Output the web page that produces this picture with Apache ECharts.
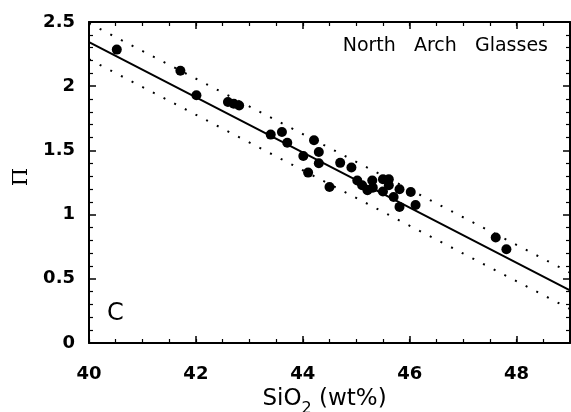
<!DOCTYPE html>
<html>
<head>
<meta charset="utf-8">
<script src="https://cdn.jsdelivr.net/npm/echarts@6/dist/echarts.min.js"></script>
<style>
html,body{margin:0;padding:0;background:#fff;}
#chart{width:571px;height:412px;}
</style>
</head>
<body>
<div id="chart"></div>
<script>
// Data
var sio2 = [40.52, 41.71, 42.01, 42.60, 42.71, 42.81, 43.40, 43.61, 43.71, 44.01, 44.10, 44.21, 44.30, 44.30, 44.50, 44.70, 44.91, 45.02, 45.11, 45.21, 45.30, 45.31, 45.50, 45.50, 45.61, 45.61, 45.70, 45.81, 45.81, 46.02, 46.11, 47.61, 47.81];
var piVals = [2.285, 2.12, 1.93, 1.877, 1.864, 1.849, 1.623, 1.643, 1.56, 1.456, 1.327, 1.579, 1.488, 1.40, 1.215, 1.403, 1.367, 1.265, 1.228, 1.19, 1.265, 1.21, 1.275, 1.18, 1.275, 1.228, 1.137, 1.198, 1.06, 1.176, 1.075, 0.821, 0.73];
var fitX = [40, 49];
var fitY = [2.344, 0.41];
var upperY = [2.49, 0.548];
var lowerY = [2.21, 0.265];
var xTickLabels = ['40', '42', '44', '46', '48'];
var yTickLabels = ['0', '0.5', '1', '1.5', '2', '2.5'];
var titleText = 'North   Arch   Glasses';
var panelText = 'C';
var yName = '\u03A0';
var xName = 'SiO{sub|2} (wt%)';

function pairs(xs, ys) { return xs.map(function (x, i) { return [x, ys[i]]; }); }

var FONT = 'DejaVu Sans';
var black = '#000';
var tickColor = '#000';

function xMain(pos, showLabel, name) {
  return {
    type: 'value', position: pos, min: 40, max: 49, interval: 2,
    axisLine: { show: true, onZero: false, lineStyle: { color: black, width: 2 } },
    axisTick: { show: true, inside: false, length: -7, lineStyle: { color: tickColor, width: 1.5 } },
    axisLabel: {
      show: showLabel, margin: 22, color: black, fontFamily: FONT, fontSize: 18, fontWeight: 'bold',
      showMaxLabel: false,
      formatter: function (v) { return xTickLabels.indexOf(String(v)) >= 0 ? String(v) : ''; }
    },
    splitLine: { show: false },
    name: name || '', nameLocation: 'middle', nameGap: 26,
    nameTextStyle: {
      color: black, fontFamily: FONT, fontSize: 23, padding: [0, 10, 0, 0],
      rich: { sub: { fontFamily: FONT, fontSize: 16, color: black, padding: [18, 0, 0, 0] } }
    }
  };
}
function xMinor(pos) {
  return {
    type: 'value', position: pos, min: 40, max: 49, interval: 0.5,
    axisLine: { show: false, onZero: false },
    axisTick: { show: true, inside: false, length: -4, lineStyle: { color: tickColor, width: 1.2 } },
    axisLabel: { show: false }, splitLine: { show: false }
  };
}
function yAxis(pos, showLabel) {
  return {
    type: 'value', position: pos, min: 0, max: 2.5, interval: 0.5,
    axisLine: { show: true, onZero: false, lineStyle: { color: black, width: 2 } },
    axisTick: { show: true, inside: false, length: -7, lineStyle: { color: tickColor, width: 1.5 } },
    minorTick: { show: true, splitNumber: 5, length: -4, lineStyle: { color: tickColor, width: 1.2 } },
    axisLabel: {
      show: showLabel, margin: 14, color: black, fontFamily: FONT, fontSize: 18, fontWeight: 'bold',
      formatter: function (v) { var s = String(v); return yTickLabels.indexOf(s) >= 0 ? s : ''; }
    },
    splitLine: { show: false }
  };
}

var chart = echarts.init(document.getElementById('chart'), null, { renderer: 'canvas' });
chart.setOption({
  animation: false,
  backgroundColor: '#fff',
  grid: { left: 89, right: 1, top: 22, bottom: 69, containLabel: false, outerBoundsMode: 'none' },
  xAxis: [xMain('bottom', true, xName), xMinor('bottom'), xMain('top', false), xMinor('top')],
  yAxis: [yAxis('left', true), yAxis('right', false)],
  graphic: [
    { type: 'text', right: 23, top: 37, style: { text: titleText, fill: black, font: '19px "DejaVu Sans"' } },
    { type: 'text', left: 107, top: 302, style: { text: panelText, fill: black, font: '24px "DejaVu Sans"' } },
    { type: 'text', x: 22, y: 177, rotation: Math.PI / 2,
      style: { text: yName, fill: black, font: '21px "DejaVu Serif"', align: 'center', verticalAlign: 'middle' } }
  ],
  series: [
    { type: 'line', xAxisIndex: 0, yAxisIndex: 0, data: pairs(fitX, fitY), showSymbol: false, symbol: 'none',
      lineStyle: { color: black, width: 2 }, z: 2, silent: true },
    { type: 'line', xAxisIndex: 0, yAxisIndex: 0, data: pairs(fitX, upperY), showSymbol: false, symbol: 'none',
      lineStyle: { color: black, width: 2, type: [2, 10] }, z: 2, silent: true },
    { type: 'line', xAxisIndex: 0, yAxisIndex: 0, data: pairs(fitX, lowerY), showSymbol: false, symbol: 'none',
      lineStyle: { color: black, width: 2, type: [2, 10] }, z: 2, silent: true },
    { type: 'scatter', xAxisIndex: 0, yAxisIndex: 0, data: pairs(sio2, piVals), symbol: 'circle', symbolSize: 10,
      itemStyle: { color: black, opacity: 1 }, z: 3 }
  ]
});
</script>
</body>
</html>
